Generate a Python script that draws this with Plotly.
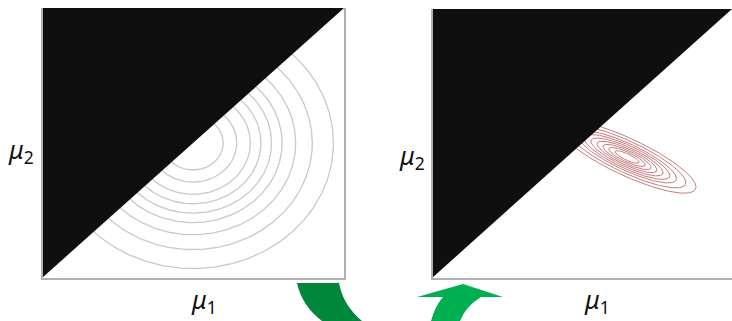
import numpy as np
import plotly.graph_objects as go

# Prior: isotropic Gaussian on the (mu1, mu2) square, shown only where mu1 > mu2
prior_center = (0.5, 0.5)
prior_radii = [0.10, 0.145, 0.19, 0.225, 0.26, 0.295, 0.34, 0.395, 0.465]

# Posterior: tilted, elongated Gaussian
post_center = (0.65, 0.45)
post_major = [0.045, 0.068, 0.09, 0.112, 0.135, 0.16, 0.185, 0.22, 0.258]
post_ratio = 0.26
post_angle_deg = -28.0

W, H = 732, 321
BLACK = "#0f0f0f"
FRAME = "#b0b0b0"

fig = go.Figure()


def add_panel(xa, ya):
    fig.add_trace(go.Scatter(
        x=[0, 0, 1, 0], y=[0, 1, 1, 0], mode="lines", fill="toself",
        fillcolor=BLACK, line=dict(color=BLACK, width=0),
        hoverinfo="skip", xaxis=xa, yaxis=ya))


t = np.linspace(0, 2 * np.pi, 400)

# left panel: circular contours
for r in prior_radii:
    fig.add_trace(go.Scatter(
        x=prior_center[0] + r * np.cos(t), y=prior_center[1] + r * np.sin(t),
        mode="lines", line=dict(color="#c9c9c9", width=1.3),
        hoverinfo="skip", xaxis="x", yaxis="y"))
add_panel("x", "y")

# right panel: elliptical contours
ang = np.deg2rad(post_angle_deg)
for a in post_major:
    b = a * post_ratio
    ex = a * np.cos(t)
    ey = b * np.sin(t)
    x = post_center[0] + ex * np.cos(ang) - ey * np.sin(ang)
    y = post_center[1] + ex * np.sin(ang) + ey * np.cos(ang)
    fig.add_trace(go.Scatter(
        x=x, y=y, mode="lines", line=dict(color="rgba(185,90,90,0.8)", width=1.0),
        hoverinfo="skip", xaxis="x2", yaxis="y2"))
add_panel("x2", "y2")

ax_common = dict(range=[0, 1], showgrid=False, zeroline=False, showticklabels=False,
                 ticks="", showline=False, fixedrange=True)
fig.update_layout(
    width=W, height=H,
    margin=dict(l=0, r=0, t=0, b=0, autoexpand=False),
    paper_bgcolor="white", plot_bgcolor="rgba(0,0,0,0)",
    showlegend=False,
    xaxis=dict(domain=[42 / W, 344 / W], anchor="y", **ax_common),
    yaxis=dict(domain=[1 - 278 / H, 1 - 8 / H], anchor="x", **ax_common),
    xaxis2=dict(domain=[432 / W, 732 / W], anchor="y2", **ax_common),
    yaxis2=dict(domain=[1 - 278 / H, 1 - 9 / H], anchor="x2", **ax_common),
)


def fx(x):
    return x / W


def fy(y):
    return 1 - y / H


def path(cmds):
    # cmds: list of (letter, [x0, y0, x1, y1, ...]) in pixel units -> paper path
    out = []
    for c, pts in cmds:
        if not pts:
            out.append(c)
            continue
        xy = []
        for i in range(0, len(pts), 2):
            xy.append(f"{fx(pts[i]):.5f},{fy(pts[i + 1]):.5f}")
        out.append(c + " " + " ".join(xy))
    return " ".join(out)


def hline(x0, x1, y):
    return dict(type="line", xref="paper", yref="paper", x0=fx(x0), x1=fx(x1),
                y0=fy(y), y1=fy(y), line=dict(color=FRAME, width=2))


def vline(x, y0, y1):
    return dict(type="line", xref="paper", yref="paper", x0=fx(x), x1=fx(x),
                y0=fy(y0), y1=fy(y1), line=dict(color=FRAME, width=2))


shapes = [
    vline(42, 8, 279), hline(41, 346, 279), vline(345, 8, 279),
    vline(432, 9, 279), hline(431, 732, 279),
    # dark green curved band
    dict(type="path", xref="paper", yref="paper",
         path=path([("M", [297, 283]), ("L", [339, 283]), ("Q", [343, 305, 362, 321]),
                    ("L", [322, 321]), ("Q", [302, 306, 297, 283]), ("Z", [])]),
         fillcolor="#00873b", line=dict(width=0)),
    # bright green arrow
    dict(type="path", xref="paper", yref="paper",
         path=path([("M", [417, 297]), ("L", [463, 284]), ("L", [503, 297]),
                    ("L", [481, 297]), ("Q", [466, 306, 460, 321]), ("L", [431, 321]),
                    ("Q", [435, 306, 443, 297]), ("Z", [])]),
         fillcolor="#00b050", line=dict(width=0)),
]
fig.update_layout(shapes=shapes)

label_font = dict(family="Noto Sans", size=25, color="#111111")
labels = [("<i>μ</i><sub>2</sub>", 21, 150), ("<i>μ</i><sub>1</sub>", 204, 300),
          ("<i>μ</i><sub>2</sub>", 412, 156), ("<i>μ</i><sub>1</sub>", 597, 300)]
for txt, x, y in labels:
    fig.add_annotation(text=txt, x=fx(x), y=fy(y), xref="paper", yref="paper",
                       xanchor="center", yanchor="middle",
                       showarrow=False, font=label_font)

fig.write_html("out.html")
